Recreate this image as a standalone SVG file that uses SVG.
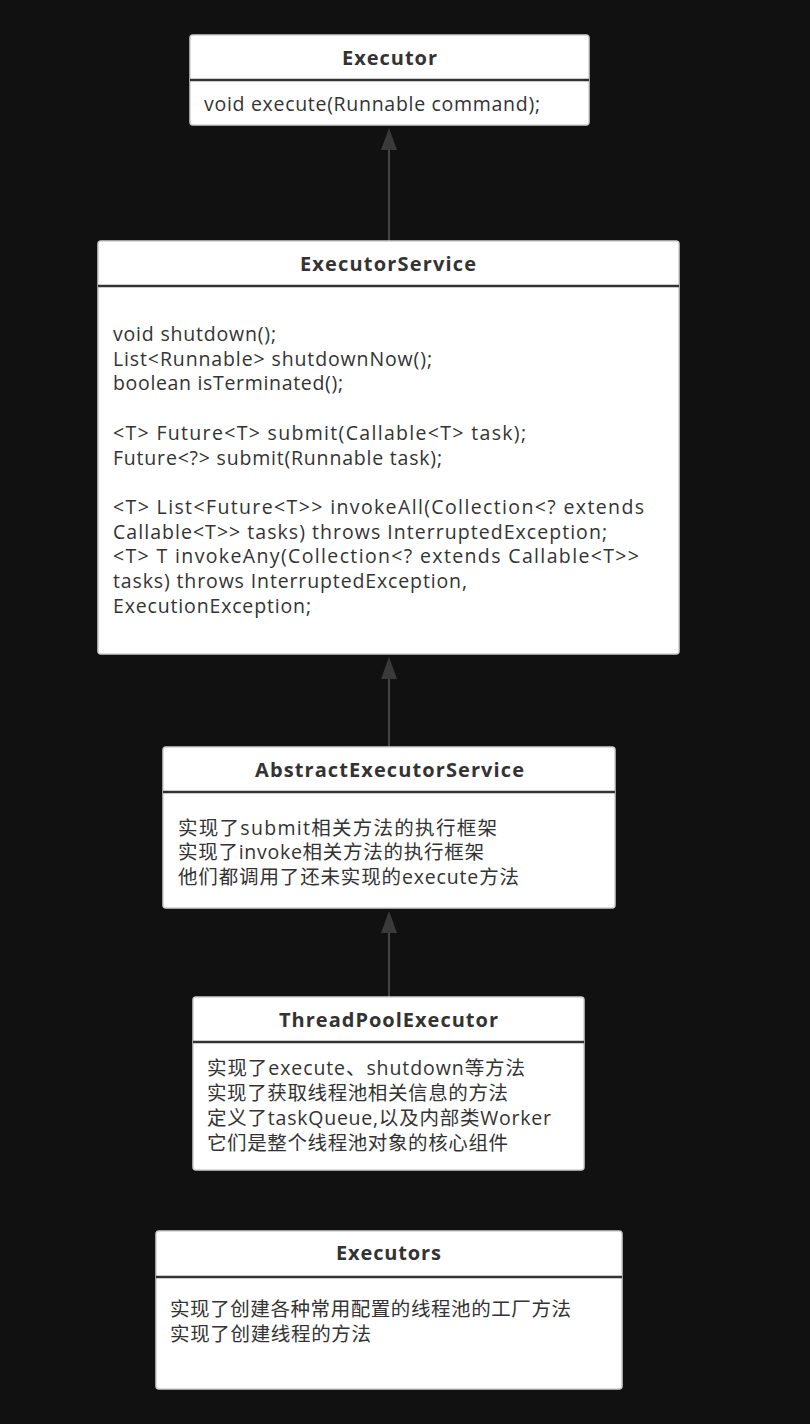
<svg xmlns="http://www.w3.org/2000/svg" width="810" height="1424" viewBox="0 0 810 1424">
<defs>
<style>
.box{fill:#ffffff;stroke:#d0d0d0;stroke-width:1.5}
.sep{stroke:#333333;stroke-width:2.5}
.title{font-family:"Open Sans","Noto Sans CJK SC",sans-serif;font-weight:bold;font-size:20px;fill:#333333}
.body{font-family:"Open Sans","Noto Sans CJK SC",sans-serif;font-size:19.5px;fill:#333333}
.conn{stroke:#444444;stroke-width:2;fill:none}
.head{fill:#3a3a3a}
</style>
</defs>
<rect width="810" height="1424" fill="#111111"/>
<g id="connectors">
<line class="conn" x1="389" y1="241" x2="389" y2="150"/>
<path class="head" d="M381,150 L389,128 L397,150 Z"/>
<line class="conn" x1="389" y1="747" x2="389" y2="679"/>
<path class="head" d="M381,679 L389,657 L397,679 Z"/>
<line class="conn" x1="389" y1="997" x2="389" y2="933"/>
<path class="head" d="M381,933 L389,911 L397,933 Z"/>
</g>
<g id="executor">
<rect class="box" x="190" y="35" width="399" height="90" rx="3"/>
<line class="sep" x1="190" y1="80" x2="589" y2="80"/>
<text class="title" x="342" y="65" textLength="95" lengthAdjust="spacing">Executor</text>
<text class="body" x="204" y="111" textLength="336" lengthAdjust="spacing">void execute(Runnable command);</text>
</g>
<g id="executorService">
<rect class="box" x="98" y="241" width="581" height="413" rx="3"/>
<line class="sep" x1="98" y1="286" x2="679" y2="286"/>
<text class="title" x="300" y="271" textLength="176" lengthAdjust="spacing">ExecutorService</text>
<text class="body"><tspan x="113" y="341" textLength="163" lengthAdjust="spacing">void shutdown();</tspan><tspan x="113" y="365.7" textLength="319" lengthAdjust="spacing">List&lt;Runnable&gt; shutdownNow();</tspan><tspan x="113" y="390.4" textLength="230" lengthAdjust="spacing">boolean isTerminated();</tspan><tspan x="113" y="439.8" textLength="413" lengthAdjust="spacing">&lt;T&gt; Future&lt;T&gt; submit(Callable&lt;T&gt; task);</tspan><tspan x="113" y="464.5" textLength="329" lengthAdjust="spacing">Future&lt;?&gt; submit(Runnable task);</tspan><tspan x="113" y="514" textLength="531" lengthAdjust="spacing">&lt;T&gt; List&lt;Future&lt;T&gt;&gt; invokeAll(Collection&lt;? extends</tspan><tspan x="113" y="538.7" textLength="494" lengthAdjust="spacing">Callable&lt;T&gt;&gt; tasks) throws InterruptedException;</tspan><tspan x="113" y="563.4" textLength="526" lengthAdjust="spacing">&lt;T&gt; T invokeAny(Collection&lt;? extends Callable&lt;T&gt;&gt;</tspan><tspan x="113" y="588.1" textLength="354" lengthAdjust="spacing">tasks) throws InterruptedException,</tspan><tspan x="113" y="612.8" textLength="198" lengthAdjust="spacing">ExecutionException;</tspan></text>
</g>
<g id="abstractExecutorService">
<rect class="box" x="163" y="747" width="452" height="161" rx="3"/>
<line class="sep" x1="163" y1="792" x2="615" y2="792"/>
<text class="title" x="255" y="777" textLength="269" lengthAdjust="spacing">AbstractExecutorService</text>
<text class="body"><tspan x="178" y="834.5" textLength="319" lengthAdjust="spacing">实现了submit相关方法的执行框架</tspan><tspan x="178" y="859.2" textLength="306" lengthAdjust="spacing">实现了invoke相关方法的执行框架</tspan><tspan x="178" y="883.9" textLength="341" lengthAdjust="spacing">他们都调用了还未实现的execute方法</tspan></text>
</g>
<g id="threadPoolExecutor">
<rect class="box" x="193" y="997" width="391" height="173" rx="3"/>
<line class="sep" x1="193" y1="1042" x2="584" y2="1042"/>
<text class="title" x="279" y="1027" textLength="219" lengthAdjust="spacing">ThreadPoolExecutor</text>
<text class="body"><tspan x="207" y="1075" textLength="318" lengthAdjust="spacing">实现了execute、shutdown等方法</tspan><tspan x="207" y="1100" textLength="301" lengthAdjust="spacing">实现了获取线程池相关信息的方法</tspan><tspan x="207" y="1125" textLength="344" lengthAdjust="spacing">定义了taskQueue,以及内部类Worker</tspan><tspan x="207" y="1150" textLength="301" lengthAdjust="spacing">它们是整个线程池对象的核心组件</tspan></text>
</g>
<g id="executors">
<rect class="box" x="156" y="1231" width="466" height="158" rx="3"/>
<line class="sep" x1="156" y1="1277" x2="622" y2="1277"/>
<text class="title" x="336" y="1260" textLength="105" lengthAdjust="spacing">Executors</text>
<text class="body"><tspan x="170" y="1316" textLength="401" lengthAdjust="spacing">实现了创建各种常用配置的线程池的工厂方法</tspan><tspan x="170" y="1341" textLength="201" lengthAdjust="spacing">实现了创建线程的方法</tspan></text>
</g>
</svg>
